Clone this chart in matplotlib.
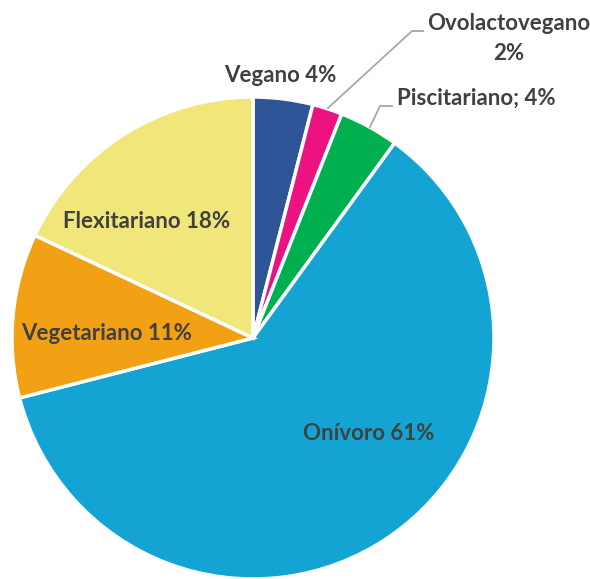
import matplotlib
matplotlib.use('Agg')
import matplotlib.pyplot as plt

# diet share (%), clockwise from 12 o'clock
categories = ['Vegano', 'Ovolactovegano', 'Piscitariano', 'Onívoro', 'Vegetariano', 'Flexitariano']
values = [4, 2, 4, 61, 11, 18]
colors = ['#2D5597', '#EC1380', '#00B050', '#13A4D4', '#F2A114', '#F0E679']

plt.rcParams['font.family'] = ['Lato', 'DejaVu Sans']

fig = plt.figure(figsize=(5.9, 5.79), dpi=100)
ax = fig.add_axes([0, 0, 1, 1])

ax.pie(values, colors=colors, startangle=90, counterclock=False,
       center=(253, 241), radius=241,
       wedgeprops={'edgecolor': 'white', 'linewidth': 2.5})

# pie() resets the limits, so set them afterwards
ax.set_xlim(0, 590)
ax.set_ylim(0, 579)
ax.set_aspect('equal')
ax.axis('off')

txt = dict(color='#404040', fontsize=16, fontweight='bold', ha='center', va='center')
ax.text(280, 579 - 75, '%s %d%%' % (categories[0], values[0]), **txt)
ax.text(509, 579 - 24, categories[1], **txt)
ax.text(509, 579 - 54, '%d%%' % values[1], **txt)
ax.text(476, 579 - 98, '%s; %d%%' % (categories[2], values[2]), **txt)
ax.text(369, 579 - 433, '%s %d%%' % (categories[3], values[3]), **txt)
ax.text(107, 579 - 334, '%s %d%%' % (categories[4], values[4]), **txt)
ax.text(147, 579 - 221, '%s %d%%' % (categories[5], values[5]), **txt)

# leader lines
ax.plot([328, 412, 423], [579 - 108, 579 - 31, 579 - 31], color='#A6A6A6', lw=1.3)
ax.plot([370, 380, 392], [579 - 127, 579 - 106, 579 - 106], color='#A6A6A6', lw=1.3)

fig.savefig('out.png', dpi=100)
